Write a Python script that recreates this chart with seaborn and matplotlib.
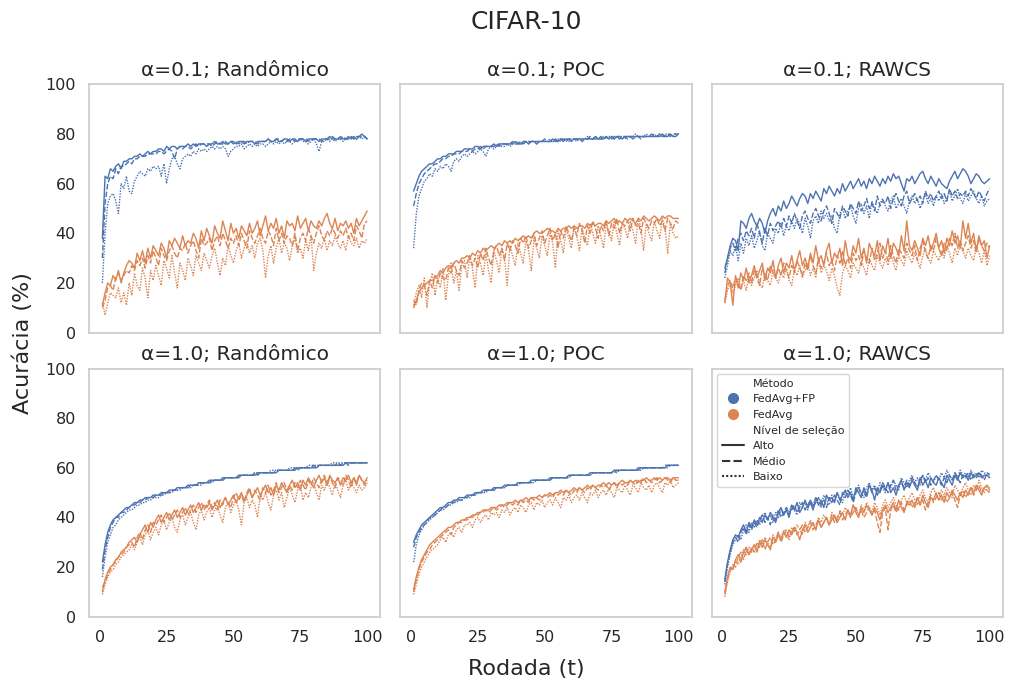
import pandas as pd
import seaborn as sns
import matplotlib.pyplot as plt
from matplotlib.lines import Line2D

# rounds 1..100, accuracy (%)
metodos = ["FedAvg+FP", "FedAvg"]
niveis = ["Alto", "Médio", "Baixo"]
alphas = ["0.1", "1.0"]
selecoes = ["Randômico", "POC", "RAWCS"]
cores = ["#4C72B0", "#DD8452"]

# alpha = 0.1, Randômico
a01_rand_fp_alto = [38, 63, 62, 66, 65, 67, 68, 66, 69, 69, 70, 70, 71, 71, 72, 71, 72, 73, 72, 73,
                    73, 74, 74, 73, 75, 74, 75, 75, 74, 75, 75, 75, 76, 75, 76, 75, 76, 76, 76, 75,
                    76, 76, 77, 76, 76, 77, 76, 76, 77, 77, 76, 77, 77, 76, 77, 77, 77, 76, 77, 77,
                    77, 77, 78, 77, 77, 78, 77, 77, 78, 78, 77, 78, 78, 77, 78, 78, 77, 78, 78, 78,
                    78, 77, 78, 78, 78, 79, 78, 78, 78, 79, 78, 78, 79, 78, 79, 78, 79, 80, 79, 78]
a01_rand_fp_medio = [30, 52, 60, 63, 62, 66, 64, 67, 67, 68, 69, 68, 70, 70, 71, 71, 71, 72, 72, 72,
                     72, 73, 73, 72, 73, 74, 73, 70, 74, 75, 74, 75, 75, 74, 75, 76, 75, 76, 76, 76,
                     76, 75, 76, 77, 76, 76, 77, 76, 77, 76, 77, 76, 77, 77, 76, 77, 77, 77, 76, 77,
                     77, 77, 78, 77, 77, 78, 78, 77, 78, 77, 78, 78, 77, 78, 78, 78, 78, 77, 78, 78,
                     78, 78, 77, 78, 78, 78, 79, 78, 78, 78, 79, 78, 78, 79, 78, 79, 79, 79, 79, 78]
a01_rand_fp_baixo = [20, 40, 52, 55, 56, 53, 48, 60, 58, 63, 57, 56, 61, 63, 65, 64, 63, 66, 65, 67,
                     66, 67, 63, 68, 60, 66, 70, 71, 68, 66, 70, 71, 72, 71, 73, 72, 74, 73, 74, 73,
                     74, 75, 74, 75, 74, 75, 74, 71, 73, 74, 75, 75, 76, 74, 75, 76, 75, 76, 75, 76,
                     76, 75, 76, 77, 76, 77, 76, 77, 76, 77, 77, 76, 77, 77, 78, 77, 77, 76, 77, 78,
                     76, 73, 77, 77, 78, 77, 78, 77, 78, 78, 77, 78, 78, 79, 78, 78, 79, 78, 79, 78]
a01_rand_avg_alto = [11, 16, 20, 19, 23, 21, 25, 20, 24, 27, 29, 28, 26, 32, 29, 33, 28, 34, 30, 35,
                     33, 31, 36, 34, 30, 37, 35, 38, 36, 34, 39, 35, 37, 36, 40, 38, 34, 41, 37, 42,
                     39, 36, 43, 40, 38, 45, 41, 37, 44, 40, 42, 38, 43, 41, 39, 44, 40, 42, 45, 39,
                     43, 47, 41, 44, 42, 46, 40, 43, 38, 45, 43, 44, 41, 47, 42, 44, 46, 41, 45, 43,
                     42, 45, 43, 46, 48, 44, 42, 46, 41, 44, 43, 45, 42, 44, 40, 46, 43, 45, 47, 49]
a01_rand_avg_medio = [10, 13, 18, 19, 17, 22, 24, 21, 23, 25, 24, 27, 25, 29, 27, 30, 26, 31, 28, 33,
                      30, 27, 34, 31, 29, 33, 35, 32, 30, 34, 33, 36, 32, 35, 37, 33, 30, 38, 35, 36,
                      38, 33, 37, 39, 35, 40, 37, 34, 38, 36, 39, 35, 40, 37, 34, 41, 38, 36, 39, 42,
                      38, 36, 41, 39, 35, 42, 37, 40, 36, 39, 38, 35, 40, 33, 38, 40, 37, 42, 39, 36,
                      40, 43, 39, 37, 41, 39, 42, 40, 38, 41, 39, 42, 38, 40, 37, 43, 41, 38, 44, 45]
a01_rand_avg_baixo = [12, 7, 12, 16, 15, 14, 18, 12, 16, 11, 20, 15, 24, 19, 17, 26, 22, 14, 25, 21,
                      27, 23, 19, 29, 26, 22, 31, 24, 18, 28, 25, 21, 30, 27, 23, 31, 28, 25, 32, 29,
                      26, 31, 34, 28, 23, 30, 27, 35, 31, 28, 33, 36, 30, 34, 37, 32, 35, 30, 36, 38,
                      33, 22, 31, 35, 28, 34, 38, 32, 36, 34, 29, 35, 38, 32, 34, 30, 37, 33, 39, 25,
                      32, 36, 34, 38, 33, 37, 35, 39, 36, 34, 37, 33, 39, 36, 35, 38, 34, 37, 36, 38]

# alpha = 0.1, POC
a01_poc_fp_alto = [57, 60, 63, 65, 66, 67, 68, 68, 69, 70, 70, 71, 71, 72, 72, 72, 73, 73, 73, 74,
                   74, 74, 74, 75, 75, 74, 75, 75, 75, 75, 76, 75, 76, 76, 76, 76, 76, 76, 77, 76,
                   76, 77, 77, 76, 77, 77, 77, 77, 77, 77, 77, 77, 78, 77, 77, 78, 77, 78, 78, 77,
                   78, 78, 78, 78, 78, 78, 78, 78, 79, 78, 78, 78, 79, 78, 79, 78, 79, 79, 78, 79,
                   79, 79, 78, 79, 79, 79, 79, 79, 79, 79, 79, 79, 79, 80, 79, 79, 80, 79, 79, 80]
a01_poc_fp_medio = [51, 56, 60, 62, 64, 65, 66, 67, 68, 68, 69, 70, 70, 71, 71, 72, 72, 72, 73, 73,
                    73, 74, 73, 74, 74, 75, 74, 75, 75, 75, 75, 76, 75, 76, 76, 76, 76, 77, 76, 76,
                    77, 76, 77, 77, 77, 77, 76, 77, 77, 78, 77, 77, 77, 78, 77, 78, 78, 77, 78, 78,
                    78, 78, 78, 77, 78, 78, 79, 78, 78, 78, 79, 78, 79, 78, 78, 79, 79, 78, 79, 79,
                    78, 79, 79, 79, 79, 78, 79, 79, 79, 80, 79, 79, 80, 79, 79, 80, 79, 80, 80, 80]
a01_poc_fp_baixo = [34, 48, 55, 58, 61, 62, 64, 63, 66, 65, 67, 66, 68, 67, 65, 69, 70, 69, 71, 72,
                    71, 72, 73, 72, 73, 74, 73, 71, 74, 75, 74, 75, 76, 75, 75, 76, 75, 76, 76, 77,
                    76, 76, 77, 76, 77, 77, 76, 77, 77, 77, 77, 78, 77, 77, 78, 77, 78, 78, 77, 78,
                    78, 77, 78, 78, 78, 79, 78, 78, 79, 78, 78, 79, 78, 79, 79, 78, 79, 79, 79, 78,
                    79, 79, 79, 80, 79, 79, 79, 80, 79, 79, 80, 79, 80, 79, 80, 80, 80, 79, 80, 80]
a01_poc_avg_alto = [10, 13, 16, 18, 19, 20, 21, 21, 22, 23, 25, 24, 26, 27, 26, 28, 29, 28, 30, 30,
                    31, 30, 32, 31, 33, 32, 34, 33, 34, 35, 34, 35, 36, 35, 37, 36, 37, 36, 38, 37,
                    38, 39, 38, 39, 38, 40, 41, 40, 40, 41, 42, 41, 41, 40, 42, 41, 42, 42, 43, 42,
                    43, 42, 43, 43, 42, 44, 43, 44, 43, 44, 44, 43, 45, 44, 45, 46, 44, 45, 44, 46,
                    45, 46, 45, 44, 46, 45, 47, 46, 45, 46, 47, 46, 45, 47, 46, 47, 47, 46, 46, 46]
a01_poc_avg_medio = [13, 11, 17, 20, 19, 15, 21, 18, 23, 20, 24, 22, 21, 26, 24, 28, 25, 23, 29, 26,
                     28, 31, 27, 30, 26, 32, 29, 34, 30, 27, 33, 35, 31, 34, 29, 36, 33, 37, 35, 32,
                     38, 36, 39, 34, 37, 40, 35, 38, 41, 36, 39, 42, 37, 40, 34, 41, 38, 43, 40, 37,
                     42, 39, 44, 41, 36, 43, 40, 45, 42, 38, 43, 41, 45, 39, 44, 42, 46, 40, 44, 43,
                     45, 41, 46, 43, 44, 40, 46, 44, 42, 45, 44, 46, 43, 45, 41, 46, 44, 42, 45, 44]
a01_poc_avg_baixo = [11, 16, 19, 14, 22, 10, 20, 24, 15, 22, 18, 26, 13, 23, 28, 20, 25, 17, 27, 29,
                     22, 30, 26, 18, 31, 28, 23, 32, 25, 20, 33, 29, 24, 34, 30, 19, 35, 31, 27, 36,
                     32, 28, 37, 33, 25, 38, 34, 30, 39, 35, 31, 40, 36, 26, 41, 37, 32, 42, 38, 34,
                     43, 39, 33, 42, 38, 35, 44, 40, 36, 43, 39, 34, 44, 41, 37, 45, 40, 35, 44, 42,
                     38, 45, 41, 36, 46, 42, 33, 44, 40, 37, 45, 41, 38, 46, 42, 32, 44, 40, 38, 39]

# alpha = 0.1, RAWCS
a01_rawcs_fp_alto = [26, 30, 35, 38, 37, 33, 45, 44, 42, 46, 48, 45, 43, 46, 44, 40, 45, 48, 50, 47,
                     51, 49, 53, 50, 52, 55, 53, 51, 54, 56, 55, 52, 56, 54, 57, 55, 53, 58, 56, 59,
                     57, 55, 58, 56, 60, 57, 59, 61, 58, 60, 62, 59, 61, 58, 62, 60, 63, 61, 59, 62,
                     60, 63, 61, 64, 62, 63, 60, 57, 62, 61, 63, 60, 62, 64, 65, 62, 60, 63, 61, 59,
                     62, 60, 59, 58, 61, 63, 65, 62, 64, 66, 65, 63, 60, 62, 64, 63, 61, 60, 61, 62]
a01_rawcs_fp_medio = [24, 30, 34, 36, 33, 38, 40, 37, 41, 39, 42, 38, 44, 40, 36, 42, 39, 44, 41, 43,
                      45, 42, 46, 43, 47, 44, 48, 45, 42, 47, 49, 46, 44, 48, 50, 47, 45, 49, 51, 48,
                      44, 50, 48, 46, 51, 49, 47, 52, 50, 48, 53, 49, 51, 54, 50, 52, 49, 55, 51, 53,
                      52, 55, 50, 54, 56, 53, 51, 55, 57, 52, 54, 56, 53, 55, 52, 57, 54, 56, 53, 55,
                      57, 54, 56, 53, 58, 55, 57, 54, 56, 55, 57, 55, 58, 56, 54, 57, 55, 53, 56, 58]
a01_rawcs_fp_baixo = [22, 27, 33, 31, 35, 29, 36, 32, 38, 35, 39, 34, 37, 41, 35, 33, 40, 38, 36, 42,
                      40, 44, 39, 43, 41, 45, 42, 46, 44, 40, 46, 43, 38, 45, 47, 44, 49, 46, 48, 45,
                      47, 42, 40, 48, 50, 46, 49, 51, 47, 44, 50, 52, 48, 51, 46, 53, 50, 48, 52, 54,
                      51, 49, 53, 55, 50, 52, 54, 51, 48, 53, 55, 52, 54, 50, 53, 56, 52, 54, 51, 55,
                      53, 56, 52, 54, 57, 53, 55, 58, 54, 52, 56, 53, 55, 57, 54, 52, 55, 51, 53, 54]
a01_rawcs_avg_alto = [12, 22, 20, 11, 23, 18, 24, 21, 26, 20, 23, 27, 22, 25, 28, 21, 26, 24, 29, 22,
                      27, 30, 24, 28, 26, 31, 25, 29, 33, 27, 30, 26, 32, 28, 35, 29, 31, 27, 33, 36,
                      28, 32, 30, 34, 27, 37, 31, 29, 35, 32, 38, 30, 34, 28, 36, 33, 31, 37, 29, 35,
                      32, 38, 30, 36, 34, 31, 39, 33, 45, 35, 33, 37, 34, 31, 38, 35, 39, 33, 36, 40,
                      34, 37, 32, 38, 35, 41, 36, 39, 34, 45, 38, 44, 36, 40, 33, 39, 35, 37, 30, 35]
a01_rawcs_avg_medio = [13, 19, 21, 18, 22, 20, 17, 23, 21, 24, 20, 25, 22, 19, 26, 23, 21, 27, 24, 22,
                       26, 23, 28, 25, 22, 27, 24, 29, 26, 23, 28, 25, 31, 27, 24, 30, 26, 28, 32, 27,
                       29, 25, 31, 28, 33, 27, 30, 26, 32, 29, 31, 27, 33, 30, 28, 34, 29, 32, 36, 30,
                       33, 29, 35, 31, 28, 34, 32, 30, 36, 33, 31, 35, 29, 34, 37, 32, 30, 35, 33, 38,
                       34, 31, 36, 33, 38, 35, 40, 34, 37, 33, 36, 39, 34, 37, 32, 38, 35, 33, 36, 34]
a01_rawcs_avg_baixo = [12, 17, 20, 16, 19, 22, 18, 21, 17, 23, 19, 22, 25, 20, 18, 24, 21, 19, 25, 22,
                       20, 24, 22, 26, 21, 19, 25, 23, 27, 22, 25, 28, 23, 26, 22, 29, 24, 27, 25, 21,
                       26, 23, 18, 15, 24, 27, 25, 22, 28, 26, 24, 29, 26, 23, 30, 27, 25, 31, 28, 26,
                       30, 27, 32, 28, 25, 31, 29, 27, 33, 30, 28, 32, 29, 26, 31, 34, 30, 28, 33, 31,
                       29, 33, 30, 35, 32, 28, 34, 31, 36, 33, 30, 34, 31, 29, 35, 32, 28, 33, 27, 31]

# alpha = 1.0, Randômico
a10_rand_fp_alto = [22, 29, 34, 37, 39, 40, 41, 42, 43, 44, 44, 45, 46, 46, 47, 47, 48, 48, 48, 49,
                    49, 49, 50, 50, 50, 51, 51, 51, 52, 52, 52, 52, 53, 53, 53, 53, 54, 54, 54, 54,
                    55, 55, 55, 55, 55, 56, 56, 56, 56, 56, 56, 57, 57, 57, 57, 57, 57, 57, 58, 58,
                    58, 58, 58, 58, 58, 58, 59, 59, 59, 59, 59, 59, 59, 60, 60, 60, 60, 60, 60, 60,
                    60, 61, 61, 61, 61, 61, 61, 61, 61, 61, 61, 62, 62, 62, 62, 62, 62, 62, 62, 62]
a10_rand_fp_medio = [19, 27, 32, 36, 38, 40, 40, 42, 42, 43, 44, 45, 45, 46, 46, 47, 47, 48, 48, 48,
                     49, 49, 49, 50, 50, 50, 51, 51, 51, 52, 52, 52, 52, 53, 53, 53, 53, 54, 54, 54,
                     54, 55, 55, 55, 55, 55, 56, 56, 56, 56, 56, 56, 57, 57, 57, 57, 57, 58, 57, 58,
                     58, 58, 58, 58, 58, 59, 59, 59, 59, 59, 59, 59, 60, 59, 60, 60, 60, 60, 60, 61,
                     60, 61, 61, 61, 61, 61, 61, 61, 62, 61, 62, 62, 61, 62, 62, 62, 62, 62, 62, 62]
a10_rand_fp_baixo = [16, 24, 30, 33, 36, 37, 39, 40, 41, 42, 43, 43, 44, 45, 45, 46, 46, 47, 47, 48,
                     48, 48, 49, 49, 50, 50, 50, 51, 51, 51, 52, 52, 52, 52, 53, 53, 53, 53, 54, 54,
                     54, 54, 55, 55, 55, 55, 56, 56, 56, 56, 56, 57, 57, 57, 57, 57, 57, 58, 58, 58,
                     58, 58, 58, 59, 59, 59, 59, 59, 59, 59, 60, 60, 60, 60, 60, 60, 60, 61, 61, 61,
                     61, 61, 61, 61, 61, 61, 62, 62, 62, 62, 62, 62, 62, 62, 62, 62, 62, 62, 62, 62]
a10_rand_avg_alto = [10, 15, 18, 20, 21, 23, 24, 26, 27, 28, 30, 31, 32, 30, 33, 35, 37, 34, 38, 36,
                     39, 41, 38, 40, 42, 39, 41, 43, 40, 42, 44, 41, 43, 45, 42, 44, 46, 43, 45, 44,
                     46, 43, 45, 47, 44, 46, 48, 45, 47, 49, 46, 48, 50, 47, 49, 51, 48, 50, 52, 49,
                     51, 53, 50, 52, 49, 53, 51, 54, 52, 50, 53, 55, 52, 54, 51, 55, 53, 56, 54, 52,
                     55, 57, 54, 56, 53, 57, 55, 54, 56, 53, 56, 55, 57, 54, 56, 53, 57, 55, 54, 56]
a10_rand_avg_medio = [12, 14, 17, 19, 21, 22, 24, 25, 26, 28, 29, 30, 28, 32, 34, 31, 35, 37, 34, 38,
                      37, 39, 41, 38, 40, 42, 39, 41, 43, 40, 42, 44, 41, 43, 45, 42, 44, 46, 43, 45,
                      47, 44, 46, 43, 47, 45, 48, 46, 44, 48, 50, 47, 49, 46, 50, 52, 48, 51, 49, 47,
                      52, 50, 53, 49, 51, 54, 50, 52, 54, 51, 53, 51, 54, 52, 55, 53, 51, 55, 53, 56,
                      54, 52, 55, 57, 53, 56, 54, 52, 56, 55, 53, 57, 55, 52, 56, 54, 57, 55, 53, 55]
a10_rand_avg_baixo = [9, 13, 16, 18, 19, 21, 22, 24, 25, 26, 27, 29, 27, 30, 32, 29, 33, 35, 31, 34,
                      36, 33, 37, 39, 35, 38, 40, 36, 34, 39, 41, 37, 40, 42, 38, 35, 41, 43, 39, 42,
                      44, 40, 43, 45, 41, 38, 44, 46, 42, 45, 47, 43, 37, 46, 48, 44, 47, 45, 40, 49,
                      47, 50, 46, 43, 49, 51, 47, 50, 44, 48, 52, 49, 46, 51, 53, 47, 50, 48, 52, 54,
                      50, 47, 53, 51, 55, 52, 49, 54, 51, 48, 53, 55, 51, 54, 52, 50, 53, 51, 52, 54]

# alpha = 1.0, POC
a10_poc_fp_alto = [30, 33, 35, 37, 38, 39, 40, 41, 42, 43, 44, 44, 45, 46, 46, 47, 47, 48, 48, 48,
                   49, 49, 49, 50, 50, 50, 51, 51, 51, 51, 52, 52, 52, 52, 53, 53, 53, 53, 53, 54,
                   54, 54, 54, 54, 55, 55, 55, 55, 55, 55, 55, 56, 56, 56, 56, 56, 56, 56, 57, 57,
                   57, 57, 57, 57, 57, 57, 58, 58, 58, 58, 58, 58, 58, 58, 58, 59, 59, 59, 59, 59,
                   59, 59, 59, 59, 60, 60, 60, 60, 60, 60, 60, 60, 60, 60, 60, 61, 61, 61, 61, 61]
a10_poc_fp_medio = [28, 32, 34, 36, 37, 38, 40, 40, 41, 42, 43, 44, 44, 45, 46, 46, 47, 47, 47, 48,
                    48, 49, 49, 49, 50, 50, 50, 51, 51, 51, 51, 52, 52, 52, 52, 53, 53, 53, 53, 53,
                    54, 54, 54, 54, 54, 55, 55, 55, 55, 55, 55, 55, 56, 56, 56, 56, 56, 56, 56, 57,
                    57, 57, 57, 57, 57, 57, 57, 58, 58, 58, 58, 58, 58, 58, 58, 58, 59, 59, 59, 59,
                    59, 59, 59, 59, 59, 60, 60, 60, 60, 60, 60, 60, 60, 60, 61, 61, 61, 61, 61, 61]
a10_poc_fp_baixo = [22, 29, 33, 35, 37, 38, 39, 40, 41, 42, 43, 43, 44, 45, 45, 46, 46, 47, 47, 48,
                    48, 48, 49, 49, 50, 50, 50, 50, 51, 51, 51, 52, 52, 52, 52, 53, 53, 53, 53, 53,
                    54, 54, 54, 54, 54, 54, 55, 55, 55, 55, 55, 55, 56, 56, 56, 56, 56, 56, 56, 57,
                    57, 57, 57, 57, 57, 57, 57, 58, 58, 58, 58, 58, 58, 58, 58, 59, 58, 59, 59, 59,
                    59, 59, 59, 59, 59, 59, 60, 60, 60, 60, 60, 60, 60, 60, 60, 60, 61, 61, 61, 61]
a10_poc_avg_alto = [11, 16, 20, 23, 25, 27, 29, 30, 31, 32, 33, 34, 35, 36, 36, 37, 38, 38, 39, 39,
                    40, 40, 41, 41, 42, 42, 43, 43, 43, 44, 44, 44, 45, 45, 45, 46, 46, 46, 47, 46,
                    47, 47, 48, 47, 48, 48, 48, 49, 48, 49, 49, 50, 49, 50, 50, 51, 50, 51, 50, 51,
                    52, 51, 52, 51, 52, 53, 52, 53, 52, 53, 53, 54, 53, 54, 53, 54, 53, 54, 55, 54,
                    54, 55, 54, 55, 54, 55, 55, 56, 55, 55, 56, 55, 56, 55, 56, 56, 55, 56, 56, 56]
a10_poc_avg_medio = [10, 15, 19, 22, 24, 26, 27, 29, 30, 31, 32, 33, 34, 35, 33, 36, 37, 38, 38, 39,
                     39, 40, 40, 41, 41, 42, 42, 43, 42, 43, 44, 43, 44, 45, 44, 45, 46, 45, 46, 45,
                     47, 46, 47, 46, 48, 47, 48, 47, 48, 49, 48, 49, 48, 50, 49, 50, 49, 51, 50, 49,
                     51, 50, 52, 51, 50, 52, 51, 53, 52, 51, 53, 52, 53, 51, 53, 54, 52, 54, 53, 54,
                     53, 55, 54, 53, 55, 54, 56, 54, 55, 54, 55, 56, 54, 55, 56, 55, 54, 56, 55, 55]
a10_poc_avg_baixo = [9, 13, 17, 20, 22, 24, 26, 27, 28, 29, 31, 32, 30, 33, 34, 32, 35, 36, 34, 37,
                     37, 38, 36, 39, 40, 38, 40, 41, 39, 42, 41, 42, 40, 43, 42, 44, 41, 43, 44, 42,
                     45, 44, 42, 45, 46, 43, 46, 45, 47, 44, 46, 47, 45, 48, 46, 44, 48, 47, 49, 46,
                     48, 49, 47, 50, 48, 46, 50, 49, 51, 48, 50, 51, 49, 52, 50, 48, 52, 51, 50, 53,
                     51, 49, 53, 52, 50, 54, 52, 51, 53, 50, 53, 54, 52, 50, 54, 53, 55, 52, 53, 54]

# alpha = 1.0, RAWCS
a10_rawcs_fp_alto = [15, 22, 27, 31, 33, 32, 35, 37, 34, 38, 36, 39, 37, 40, 38, 41, 39, 42, 40, 38,
                     42, 44, 41, 43, 40, 45, 43, 46, 42, 44, 47, 44, 46, 43, 48, 45, 47, 44, 49, 47,
                     48, 46, 50, 47, 49, 51, 48, 50, 47, 52, 50, 48, 52, 49, 53, 51, 47, 52, 50, 53,
                     51, 54, 50, 52, 49, 53, 55, 51, 54, 52, 55, 53, 51, 56, 53, 55, 52, 56, 54, 53,
                     56, 54, 52, 57, 55, 53, 57, 55, 58, 56, 57, 55, 58, 56, 57, 58, 56, 57, 57, 56]
a10_rawcs_fp_medio = [14, 21, 26, 30, 32, 30, 34, 36, 33, 37, 35, 38, 36, 39, 41, 38, 40, 37, 41, 39,
                      43, 40, 42, 44, 41, 43, 45, 42, 44, 46, 43, 45, 47, 44, 46, 48, 45, 47, 44, 48,
                      46, 49, 47, 45, 50, 48, 51, 49, 46, 50, 52, 49, 51, 48, 53, 50, 52, 49, 51, 54,
                      52, 50, 53, 55, 51, 53, 54, 52, 55, 53, 56, 54, 52, 55, 57, 54, 56, 53, 55, 57,
                      55, 53, 56, 54, 57, 55, 58, 56, 54, 57, 56, 58, 55, 57, 56, 58, 57, 55, 58, 57]
a10_rawcs_fp_baixo = [13, 20, 25, 29, 31, 33, 31, 35, 37, 34, 38, 36, 39, 37, 40, 42, 39, 41, 38, 42,
                      40, 43, 41, 44, 42, 45, 43, 41, 46, 44, 46, 43, 47, 45, 48, 46, 44, 49, 47, 45,
                      49, 47, 50, 48, 46, 51, 49, 52, 48, 50, 53, 50, 48, 52, 54, 51, 53, 50, 54, 52,
                      50, 54, 52, 55, 53, 51, 56, 54, 52, 55, 57, 54, 56, 53, 57, 55, 58, 56, 54, 57,
                      55, 58, 56, 59, 57, 55, 58, 56, 59, 57, 58, 56, 59, 57, 58, 56, 59, 58, 57, 58]
a10_rawcs_avg_alto = [10, 16, 20, 19, 23, 25, 22, 26, 28, 25, 27, 29, 26, 30, 28, 31, 29, 27, 32, 30,
                      33, 31, 34, 32, 35, 33, 36, 34, 31, 35, 37, 34, 36, 38, 35, 39, 36, 38, 40, 37,
                      39, 41, 38, 40, 42, 39, 43, 41, 45, 42, 40, 44, 42, 45, 43, 41, 44, 42, 39, 43,
                      45, 42, 44, 46, 43, 47, 44, 42, 46, 45, 47, 44, 48, 45, 49, 46, 44, 48, 47, 50,
                      47, 49, 46, 50, 48, 51, 49, 47, 50, 48, 51, 49, 52, 50, 53, 51, 49, 52, 53, 51]
a10_rawcs_avg_medio = [9, 15, 19, 21, 20, 24, 26, 23, 27, 25, 28, 26, 30, 28, 31, 27, 30, 32, 29, 31,
                       34, 30, 33, 35, 32, 34, 36, 33, 35, 37, 34, 36, 38, 35, 37, 39, 36, 38, 40, 37,
                       41, 38, 40, 42, 39, 41, 43, 40, 42, 44, 41, 43, 40, 42, 44, 41, 43, 38, 34, 42,
                       44, 35, 43, 45, 42, 44, 46, 43, 45, 47, 44, 46, 48, 45, 47, 43, 46, 49, 46, 48,
                       50, 47, 49, 46, 48, 50, 47, 44, 49, 51, 48, 50, 52, 49, 51, 53, 50, 52, 51, 50]
a10_rawcs_avg_baixo = [8, 14, 18, 20, 22, 21, 24, 27, 25, 28, 26, 29, 27, 31, 29, 32, 30, 28, 33, 31,
                       34, 32, 35, 33, 31, 36, 34, 37, 35, 33, 38, 36, 39, 37, 35, 40, 38, 41, 39, 37,
                       42, 40, 38, 43, 41, 44, 42, 40, 45, 43, 41, 45, 43, 46, 44, 42, 46, 44, 41, 45,
                       47, 44, 46, 48, 45, 43, 47, 49, 46, 48, 50, 47, 45, 49, 51, 48, 46, 50, 52, 49,
                       47, 51, 49, 52, 50, 48, 53, 51, 49, 52, 54, 51, 49, 53, 51, 55, 52, 50, 53, 52]

paineis = {
    ("0.1", "Randômico"): [a01_rand_fp_alto, a01_rand_fp_medio, a01_rand_fp_baixo,
                           a01_rand_avg_alto, a01_rand_avg_medio, a01_rand_avg_baixo],
    ("0.1", "POC"): [a01_poc_fp_alto, a01_poc_fp_medio, a01_poc_fp_baixo,
                     a01_poc_avg_alto, a01_poc_avg_medio, a01_poc_avg_baixo],
    ("0.1", "RAWCS"): [a01_rawcs_fp_alto, a01_rawcs_fp_medio, a01_rawcs_fp_baixo,
                       a01_rawcs_avg_alto, a01_rawcs_avg_medio, a01_rawcs_avg_baixo],
    ("1.0", "Randômico"): [a10_rand_fp_alto, a10_rand_fp_medio, a10_rand_fp_baixo,
                           a10_rand_avg_alto, a10_rand_avg_medio, a10_rand_avg_baixo],
    ("1.0", "POC"): [a10_poc_fp_alto, a10_poc_fp_medio, a10_poc_fp_baixo,
                     a10_poc_avg_alto, a10_poc_avg_medio, a10_poc_avg_baixo],
    ("1.0", "RAWCS"): [a10_rawcs_fp_alto, a10_rawcs_fp_medio, a10_rawcs_fp_baixo,
                       a10_rawcs_avg_alto, a10_rawcs_avg_medio, a10_rawcs_avg_baixo],
}

# long table
rows = []
for (alpha, sel), series in paineis.items():
    k = 0
    for met in metodos:
        for niv in niveis:
            for t, acc in enumerate(series[k], start=1):
                rows.append((alpha, sel, met, niv, t, acc))
            k += 1
df = pd.DataFrame(rows, columns=["alpha", "selecao", "metodo", "nivel", "rodada", "acuracia"])

sns.set_theme(style="whitegrid", rc={"axes.grid": False})
fig, axes = plt.subplots(2, 3, figsize=(10.13, 6.86), dpi=100, sharex=True, sharey=True)
plt.subplots_adjust(left=0.088, right=0.990, top=0.877, bottom=0.101, wspace=0.0685, hspace=0.145)

for i, alpha in enumerate(alphas):
    for j, sel in enumerate(selecoes):
        ax = axes[i, j]
        sub = df[(df["alpha"] == alpha) & (df["selecao"] == sel)]
        sns.lineplot(data=sub, x="rodada", y="acuracia", hue="metodo", style="nivel",
                     hue_order=metodos, style_order=niveis, palette=cores,
                     linewidth=1, legend=False, ax=ax)
        ax.set_title(f"α={alpha}; {sel}", fontsize=14.5)
        ax.set_xlabel("")
        ax.set_ylabel("")
        ax.set_ylim(0, 100)
        ax.set_yticks(range(0, 101, 20))
        ax.set_xticks([0, 25, 50, 75, 100])
        ax.tick_params(labelsize=11.5)

# legend with method circles and level line styles
handles = [
    Line2D([], [], linestyle="none", label="Método"),
    Line2D([], [], marker="o", markersize=7, linestyle="none", color=cores[0], label="FedAvg+FP"),
    Line2D([], [], marker="o", markersize=7, linestyle="none", color=cores[1], label="FedAvg"),
    Line2D([], [], linestyle="none", label="Nível de seleção"),
    Line2D([], [], color=".2", linewidth=1.5, label="Alto"),
    Line2D([], [], color=".2", linewidth=1.5, dashes=(4, 1.5), label="Médio"),
    Line2D([], [], color=".2", linewidth=1.5, dashes=(1, 1), label="Baixo"),
]
axes[1, 2].legend(handles=handles, loc="upper left", fontsize=8)

fig.suptitle("CIFAR-10", fontsize=18, x=0.52, y=0.986)
fig.supxlabel("Rodada (t)", fontsize=16, x=0.52, y=0.01)
fig.supylabel("Acurácia (%)", fontsize=16, x=0.012)

plt.savefig("out.png", dpi=100)
